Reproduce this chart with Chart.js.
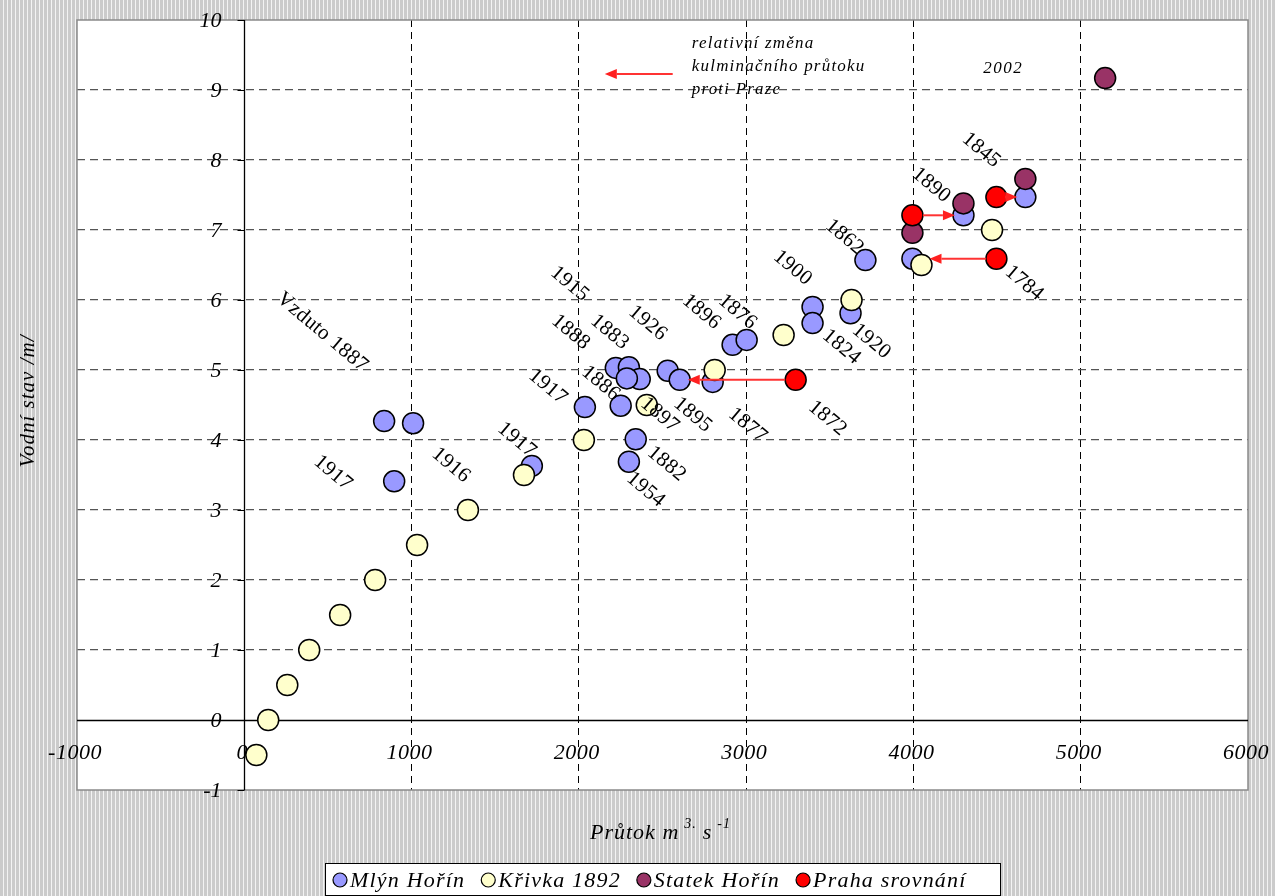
<!DOCTYPE html>
<html>
<head>
<meta charset="utf-8">
<script src="https://cdn.jsdelivr.net/npm/chart.js@4.4.0/dist/chart.umd.min.js"></script>
<style>
  html, body { margin: 0; padding: 0; }
  body {
    width: 1275px; height: 896px; overflow: hidden;
    background: repeating-linear-gradient(to right, #cbcbcb 0px, #cbcbcb 3px, #f3f3f3 3px, #f3f3f3 4px);
  }
  #wrap { position: relative; width: 1275px; height: 896px; }
</style>
</head>
<body>
<div id="wrap"><canvas id="chart" width="1275" height="896"></canvas></div>
<script>
// ========== DATA ==========
const mlynX = [836, 1009, 896, 1719, 2036, 2250, 2340, 2299, 2221, 2299, 2364, 2287, 2531, 2603, 2800, 2919, 3003, 3397, 3397, 3624, 3713, 3994, 4299, 4669];
const mlynY = [4.27, 4.24, 3.41, 3.63, 4.47, 4.49, 4.01, 3.69, 5.03, 5.04, 4.87, 4.88, 4.99, 4.86, 4.83, 5.36, 5.43, 5.9, 5.67, 5.81, 6.57, 6.59, 7.21, 7.47];

const krivkaX = [72, 143, 257, 388, 573, 782, 1033, 1337, 1672, 2030, 2406, 2812, 3224, 3630, 4048, 4470];
const krivkaY = [-0.5, 0, 0.5, 1, 1.5, 2, 2.5, 3, 3.5, 4, 4.5, 5, 5.5, 6, 6.5, 7];

const statekX = [5146, 4669, 4299, 3994];
const statekY = [9.17, 7.73, 7.38, 6.96];

const prahaX = [3994, 4496, 4496, 3296];
const prahaY = [7.21, 7.47, 6.59, 4.86];

// arrows: relative change of culmination flow vs Prague
const arrowFromX = [3296, 3994, 4496, 4496, 2561];
const arrowFromY = [4.86, 7.21, 7.47, 6.59, 9.23];
const arrowToX = [2651, 4248, 4621, 4096, 2155];
const arrowToY = [4.86, 7.21, 7.47, 6.59, 9.23];

// year labels
const yearText = ['Vzduto 1887', '1917', '1916', '1917', '1917', '1915', '1888', '1883', '1926', '1896', '1876', '1900', '1862', '1824', '1920', '1886', '1897', '1895', '1877', '1872', '1882', '1954', '1845', '1890', '1784'];
const yearX = [466, 531, 1236, 1630, 1815, 1946, 1952, 2185, 2412, 2734, 2949, 3278, 3588, 3570, 3749, 2131, 2484, 2681, 3009, 3487, 2525, 2400, 4406, 4107, 4663];
const yearY = [5.54, 3.53, 3.64, 4.0, 4.76, 6.23, 5.54, 5.54, 5.67, 5.83, 5.83, 6.46, 6.9, 5.33, 5.41, 4.81, 4.36, 4.36, 4.21, 4.31, 3.66, 3.29, 8.14, 7.64, 6.24];

const noteLines = ['relativní změna', 'kulminačního průtoku', 'proti Praze'];
const noteX = 2675;
const noteY = [9.67, 9.34, 9.01];
const note2002 = { text: '2002', x: 4537, y: 9.31 };

const seriesNames = ['Mlýn Hořín', 'Křivka 1892', 'Statek Hořín', 'Praha srovnání'];
const seriesColors = ['#9999ff', '#ffffcc', '#993366', '#ff0000'];

const xTitle = 'Průtok m';
const yTitle = 'Vodní stav /m/';

const FONT = '"Liberation Serif", "Times New Roman", serif';
const POINT_R = 10.5;

function zip(xs, ys) {
    return xs.map((x, i) => ({ x: x, y: ys[i] }));
}

function arrow(ctx, x1, y1, x2, y2, gap) {
    const ang = Math.atan2(y2 - y1, x2 - x1);
    const c = Math.cos(ang), s = Math.sin(ang);
    const hl = 12, hw = 5;
    const bx = x2 - c * hl, by = y2 - s * hl;
    ctx.strokeStyle = '#ff3333';
    ctx.fillStyle = '#ff2020';
    ctx.lineWidth = 2;
    ctx.beginPath();
    ctx.moveTo(x1 + c * gap, y1 + s * gap);
    ctx.lineTo(bx, by);
    ctx.stroke();
    ctx.beginPath();
    ctx.moveTo(x2, y2);
    ctx.lineTo(bx - s * hw, by + c * hw);
    ctx.lineTo(bx + s * hw, by - c * hw);
    ctx.closePath();
    ctx.fill();
}

const decor = {
    id: 'decor',
    beforeDraw(chart) {
        const { ctx, chartArea: a } = chart;
        ctx.save();
        ctx.fillStyle = '#ffffff';
        ctx.fillRect(a.left, a.top, a.right - a.left, a.bottom - a.top);
        ctx.restore();
    },
    beforeDatasetsDraw(chart) {
        const { ctx, chartArea: a, scales } = chart;
        const xs = scales.x, ys = scales.y;
        const x0 = Math.round(xs.getPixelForValue(0)) + 0.5;
        const y0 = Math.round(ys.getPixelForValue(0)) + 0.5;
        ctx.save();
        // plot border
        ctx.strokeStyle = '#8a8a8a';
        ctx.lineWidth = 1.5;
        ctx.strokeRect(a.left, a.top, a.right - a.left, a.bottom - a.top);
        // axes through zero
        ctx.strokeStyle = '#000';
        ctx.lineWidth = 1.3;
        ctx.beginPath();
        ctx.moveTo(x0, a.top); ctx.lineTo(x0, a.bottom);
        ctx.moveTo(a.left, y0); ctx.lineTo(a.right, y0);
        ctx.stroke();
        // tick marks
        ctx.lineWidth = 1;
        ctx.beginPath();
        ys.ticks.forEach(t => {
            const py = Math.round(ys.getPixelForValue(t.value)) + 0.5;
            ctx.moveTo(x0 - 7, py); ctx.lineTo(x0, py);
        });
        ctx.stroke();
        // tick labels
        ctx.fillStyle = '#000';
        ctx.font = 'italic 22px ' + FONT;
        ctx.textBaseline = 'middle';
        ctx.textAlign = 'right';
        ys.ticks.forEach(t => {
            ctx.fillText(String(t.value), x0 - 23, ys.getPixelForValue(t.value) + 1);
        });
        ctx.textAlign = 'center';
        ctx.letterSpacing = '0.5px';
        xs.ticks.forEach(t => {
            ctx.fillText(String(t.value), xs.getPixelForValue(t.value) - 2, y0 + 33);
        });
        ctx.restore();
    },
    afterDatasetsDraw(chart) {
        const { ctx, scales } = chart;
        const xs = scales.x, ys = scales.y;
        ctx.save();
        arrowFromX.forEach((fx, i) => {
            const fromPoint = prahaX.some((px, j) => px === fx && prahaY[j] === arrowFromY[i]);
            arrow(ctx,
                xs.getPixelForValue(fx), ys.getPixelForValue(arrowFromY[i]),
                xs.getPixelForValue(arrowToX[i]), ys.getPixelForValue(arrowToY[i]),
                fromPoint ? POINT_R : 0);
        });
        // year labels, rotated
        ctx.fillStyle = '#000';
        ctx.font = '21px ' + FONT;
        ctx.letterSpacing = '0.3px';
        ctx.textAlign = 'center';
        ctx.textBaseline = 'middle';
        yearText.forEach((t, i) => {
            ctx.save();
            ctx.translate(xs.getPixelForValue(yearX[i]), ys.getPixelForValue(yearY[i]));
            ctx.rotate(40 * Math.PI / 180);
            ctx.fillText(t, 0, 0);
            ctx.restore();
        });
        // note
        ctx.font = 'italic 17px ' + FONT;
        ctx.letterSpacing = '1.2px';
        ctx.textAlign = 'left';
        noteLines.forEach((t, i) => {
            ctx.fillText(t, xs.getPixelForValue(noteX), ys.getPixelForValue(noteY[i]));
        });
        ctx.textAlign = 'center';
        ctx.letterSpacing = '1.5px';
        ctx.fillText(note2002.text, xs.getPixelForValue(note2002.x), ys.getPixelForValue(note2002.y));
        ctx.restore();
    },
    afterDraw(chart) {
        const { ctx } = chart;
        ctx.save();
        ctx.fillStyle = '#000';
        ctx.letterSpacing = '1px';
        // y title
        ctx.font = 'italic 21px ' + FONT;
        ctx.textAlign = 'center';
        ctx.textBaseline = 'middle';
        ctx.save();
        ctx.translate(28, 401);
        ctx.rotate(-Math.PI / 2);
        ctx.fillText(yTitle, 0, 0);
        ctx.restore();
        // x title with superscripts
        ctx.textAlign = 'left';
        ctx.textBaseline = 'alphabetic';
        let tx = 590;
        ctx.font = 'italic 22px ' + FONT;
        ctx.fillText(xTitle, tx, 839);
        tx += ctx.measureText(xTitle).width + 5;
        ctx.font = 'italic 14px ' + FONT;
        ctx.fillText('3.', tx, 828);
        tx += ctx.measureText('3.').width + 6;
        ctx.font = 'italic 22px ' + FONT;
        ctx.fillText('s', tx, 839);
        tx += ctx.measureText('s').width + 5;
        ctx.font = 'italic 14px ' + FONT;
        ctx.fillText('-1', tx, 828);

        // legend
        ctx.fillStyle = '#ffffff';
        ctx.fillRect(325, 863, 675, 32);
        ctx.strokeStyle = '#000';
        ctx.lineWidth = 1;
        ctx.strokeRect(325.5, 863.5, 675, 32);
        ctx.font = 'italic 22px ' + FONT;
        ctx.letterSpacing = '1.2px';
        ctx.textBaseline = 'middle';
        let lx = 333;
        seriesNames.forEach((name, i) => {
            ctx.beginPath();
            ctx.arc(lx + 7, 880, 7, 0, Math.PI * 2);
            ctx.fillStyle = seriesColors[i];
            ctx.fill();
            ctx.lineWidth = 1.2;
            ctx.strokeStyle = '#000';
            ctx.stroke();
            ctx.fillStyle = '#000';
            ctx.fillText(name, lx + 17, 881);
            lx += 17 + ctx.measureText(name).width + 16;
        });
        ctx.restore();
    }
};

function gridColor(edgeA, edgeB, color) {
    return (c) => {
        const v = c.tick ? c.tick.value : null;
        return (v === 0 || v === edgeA || v === edgeB) ? 'rgba(0,0,0,0)' : color;
    };
}

const ctx = document.getElementById('chart').getContext('2d');
new Chart(ctx, {
    type: 'scatter',
    data: {
        datasets: [
            { label: seriesNames[0], data: zip(mlynX, mlynY), backgroundColor: seriesColors[0], order: 4 },
            { label: seriesNames[1], data: zip(krivkaX, krivkaY), backgroundColor: seriesColors[1], order: 3 },
            { label: seriesNames[2], data: zip(statekX, statekY), backgroundColor: seriesColors[2], order: 2 },
            { label: seriesNames[3], data: zip(prahaX, prahaY), backgroundColor: seriesColors[3], order: 1 }
        ]
    },
    options: {
        responsive: false,
        animation: false,
        devicePixelRatio: 1,
        layout: { padding: { left: 77, top: 20, right: 27, bottom: 106 } },
        elements: {
            point: { radius: POINT_R, hoverRadius: POINT_R, borderWidth: 1.5, borderColor: '#000' }
        },
        plugins: {
            legend: { display: false },
            tooltip: { enabled: false }
        },
        scales: {
            x: {
                type: 'linear',
                min: -1000,
                max: 6000,
                ticks: { stepSize: 1000, display: false },
                grid: { color: gridColor(-1000, 6000, '#000'), lineWidth: 1, drawTicks: false },
                border: { display: false, dash: [7, 5] }
            },
            y: {
                type: 'linear',
                min: -1,
                max: 10,
                ticks: { stepSize: 1, display: false },
                grid: { color: gridColor(-1, 10, '#555'), lineWidth: 1.2, drawTicks: false },
                border: { display: false, dash: [8, 5] }
            }
        }
    },
    plugins: [decor]
});
</script>
</body>
</html>
